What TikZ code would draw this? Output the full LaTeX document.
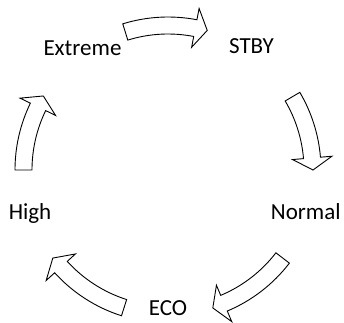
\documentclass[tikz,border=0pt]{standalone}
\usepackage{fontspec}
\setmainfont{Carlito}

\tikzset{
  state/.style={font=\fontsize{23}{27}\selectfont, text height=1.5ex, text depth=.25ex, inner sep=0pt},
  cyclearrow/.style={draw=black, fill=white, line width=0.9pt, line join=miter},
}

% curved block arrow on the cycle: tail angle, tip angle
\newcommand{\cycarrow}[2]{%
  \pgfmathsetmacro{\hb}{#2+4.8}%
  \draw[cyclearrow] (#1:153) arc[start angle=#1, end angle=\hb, radius=153pt]
    -- (\hb:164.5) -- (#2:145) -- (\hb:125) -- (\hb:136)
    arc[start angle=\hb, end angle=#1, radius=136pt] -- cycle;}

\begin{document}
\begin{tikzpicture}[x=1pt, y=1pt]
  \useasboundingbox (-168,-152) rectangle (176,170);

  \node[state] (Extreme) at (126:145.5)   {Extreme};
  \node[state] (STBY)    at (55:145.5)    {STBY};
  \node[state] (Normal)  at (-18.7:145.5) {Normal};
  \node[state] (ECO)     at (-90:142.5)   {ECO};
  \node[state] (High)    at (198.5:145.5) {High};

  \cycarrow{107.2}{74.3}
  \cycarrow{30.5}{0}
  \cycarrow{-37.5}{-72}
  \cycarrow{-107.7}{-142.6}
  \cycarrow{180}{149.3}
\end{tikzpicture}
\end{document}
